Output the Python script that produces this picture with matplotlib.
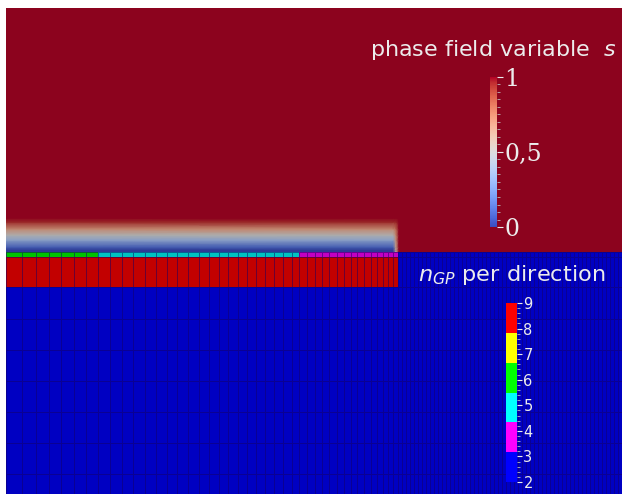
import numpy as np
import matplotlib
matplotlib.use("Agg")
import matplotlib.pyplot as plt
from matplotlib.colors import ListedColormap, Normalize
from matplotlib.cm import ScalarMappable
from matplotlib.ticker import MultipleLocator

# mesh below the crack (crack faces along y = 0, tip at x = 3.92)
x_left = [0, 0.16, 0.30, 0.43, 0.55, 0.68, 0.80, 0.92, 1.04, 1.16, 1.27, 1.39,
          1.50, 1.61, 1.71, 1.82, 1.93, 2.03, 2.13, 2.22, 2.32, 2.41, 2.50,
          2.59, 2.68, 2.77, 2.86, 2.93, 3.01, 3.09, 3.16, 3.23, 3.31, 3.38,
          3.45, 3.51, 3.58, 3.65, 3.71, 3.77, 3.82, 3.87, 3.92]
# fine uniform mesh ahead of the tip
x_right = np.linspace(3.92, 6.16, 57)[1:]
y_rows = [0, -0.05, -0.35, -0.67, -0.98, -1.29, -1.60, -1.91, -2.22, -2.42]

# number of Gauss points per direction in each element
ngp_thin_row = [6] * 7 + [5] * 20 + [4] * 15 + [2] * 56
ngp_crack_row = [9] * 42 + [2] * 56
ngp_bulk = 2

# phase field s above the crack
pf_x = [0, 3.87, 3.90, 3.93, 6.16]
pf_y = [0, 0.02, 0.05, 0.12, 0.17, 0.23, 0.30, 0.34, 2.44]
s_cracked = [0, 0, 0.1, 0.35, 0.5, 0.7, 0.95, 1, 1]
s_tip = [0.55, 0.6, 0.62, 0.68, 0.72, 0.8, 0.95, 1, 1]
s_intact = [1, 1, 1, 1, 1, 1, 1, 1, 1]

ngp_colors = ["#0000ff", "#ff00ff", "#00ffff", "#00ff00", "#ffff00", "#ff0000"]

fig = plt.figure(figsize=(6.22, 4.95), dpi=100)
ax = fig.add_axes([6 / 622, 1 / 495, 616 / 622, 486 / 495])

# phase field, darkened like a lit surface
warm = plt.get_cmap("coolwarm")(np.linspace(0, 1, 256))
warm[:, :3] *= 0.78
pf_cmap = ListedColormap(warm)
S = np.column_stack([s_cracked, s_cracked, s_tip, s_intact, s_intact])
PX, PY = np.meshgrid(pf_x, pf_y)
ax.pcolormesh(PX, PY, S, cmap=pf_cmap, norm=Normalize(0, 1), shading="gouraud")

# n_GP mesh
lit = np.array([matplotlib.colors.to_rgb(c) for c in ngp_colors]) * 0.76
ngp_cmap = ListedColormap(lit)
ngp = np.full((len(y_rows) - 1, len(ngp_crack_row)), ngp_bulk)
ngp[0] = ngp_thin_row
ngp[1] = ngp_crack_row
x_nodes = np.concatenate([x_left, x_right])
ax.pcolormesh(x_nodes, y_rows, ngp, cmap=ngp_cmap, norm=Normalize(2, 9),
              edgecolors=(0.08, 0.0, 0.4, 0.5), linewidth=0.5)

ax.set_xlim(0, 6.16)
ax.set_ylim(-2.42, 2.44)
ax.axis("off")

label_col = "#ececec"

# colorbar for s
cax1 = fig.add_axes([490 / 622, 268 / 495, 7 / 622, 150 / 495])
cb1 = fig.colorbar(ScalarMappable(norm=Normalize(0, 1), cmap="coolwarm"), cax=cax1)
cb1.outline.set_visible(False)
cb1.set_ticks([0, 0.5, 1])
cb1.set_ticklabels(["0", "0,5", "1"])
cax1.yaxis.set_minor_locator(MultipleLocator(0.05))
cax1.tick_params(which="major", colors=label_col, length=4.3, width=0.8,
                 labelsize=17, pad=1)
cax1.tick_params(which="minor", colors="#bbbbbb", length=2.2, width=0.6)
for t in cax1.get_yticklabels():
    t.set_family("DejaVu Serif")
fig.text(370 / 622, (495 - 56) / 495, "phase field variable  $s$",
         color=label_col, fontsize=16, va="baseline")

# colorbar for n_GP
cax2 = fig.add_axes([506 / 622, 13 / 495, 11 / 622, 179 / 495])
cb2 = fig.colorbar(ScalarMappable(norm=Normalize(2, 9), cmap=ListedColormap(ngp_colors)),
                   cax=cax2)
cb2.outline.set_visible(False)
cb2.set_ticks(range(2, 10))
cax2.yaxis.set_minor_locator(MultipleLocator(0.2))
cax2.tick_params(which="major", colors=label_col, length=3.6, width=0.8,
                 labelsize=10.5, pad=1)
cax2.tick_params(which="minor", colors="#bbbbbb", length=2.2, width=0.6)
fig.text(418 / 622, (495 - 281) / 495, "$n_{GP}$ per direction",
         color=label_col, fontsize=16.2, va="baseline")

fig.savefig("out.png", dpi=100)
